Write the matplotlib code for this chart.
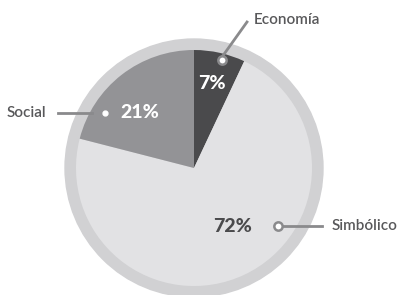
"""Pie chart: distribution by dimension."""

import matplotlib.pyplot as plt
from matplotlib.patches import Circle

labels = ["Economía", "Simbólico", "Social"]
values = [7, 72, 21]
colors = ["#4a4a4c", "#e2e2e4", "#939396"]

W, H = 402, 295
CX, CY = 194, H - 168
R_PIE = 118
R_RING = 129

LABEL_FONT = "Lato"
LABEL_COLOR = "#58585a"
LINE_COLOR = "#8a8a8c"


def py(y):
    """Convert a pixel row (top origin) to axes y."""
    return H - y


fig = plt.figure(figsize=(W / 100, H / 100), dpi=100)
ax = fig.add_axes([0, 0, 1, 1])

# outer ring
ax.add_patch(Circle((CX, CY), R_RING, color="#d1d1d3", zorder=0))

ax.pie(
    values,
    colors=colors,
    startangle=90,
    counterclock=False,
    center=(CX, CY),
    radius=R_PIE,
    wedgeprops={"linewidth": 0},
    frame=True,
)
ax.set_xlim(0, W)
ax.set_ylim(0, H)
ax.set_aspect("equal")
ax.axis("off")

label_kw = dict(fontsize=11, fontweight="semibold", family=LABEL_FONT,
                color=LABEL_COLOR, va="center", ha="left")
pct_kw = dict(fontsize=14, fontweight="black", family=LABEL_FONT,
              va="center", ha="center")

# Economía
ax.plot([222, 247], [py(57), py(22)], color=LINE_COLOR, lw=2, zorder=3)
ax.plot(222, py(60), "o", ms=6, mfc="white", mec=LINE_COLOR, mew=1.8, zorder=4)
ax.text(254, py(20), labels[0], **label_kw)
ax.text(212, py(84), f"{values[0]}%", color="white", **pct_kw)

# Social
ax.plot([58, 92], [py(113), py(113)], color=LINE_COLOR, lw=2, zorder=3)
ax.plot(105, py(113), "o", ms=3.5, mfc="white", mec="white", zorder=4)
ax.text(7, py(113), labels[2], **label_kw)
ax.text(140, py(113), f"{values[2]}%", color="white", **pct_kw)

# Simbólico
ax.plot([281, 322], [py(226), py(226)], color=LINE_COLOR, lw=2, zorder=3)
ax.plot(278, py(226), "o", ms=6, mfc="white", mec=LINE_COLOR, mew=1.8, zorder=4)
ax.text(332, py(226), labels[1], **label_kw)
ax.text(233, py(226), f"{values[1]}%", color="#4a4a4c", **pct_kw)

plt.savefig("out.png", dpi=100)
